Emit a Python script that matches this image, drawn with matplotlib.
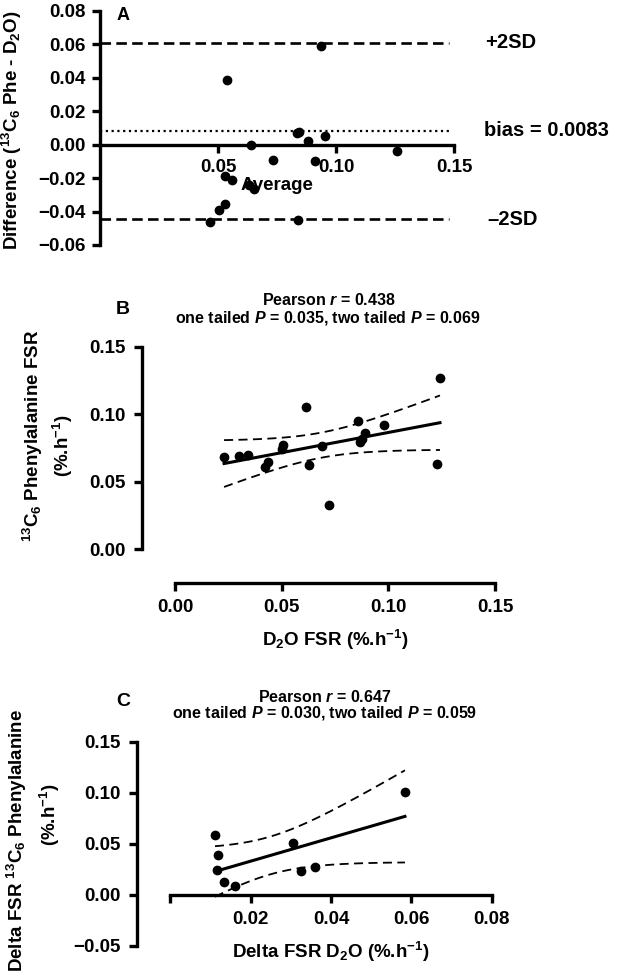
import numpy as np
import matplotlib.pyplot as plt
from matplotlib.ticker import FuncFormatter

plt.rcParams['font.family'] = ['Liberation Sans', 'DejaVu Sans']
plt.rcParams['font.weight'] = 'bold'
plt.rcParams['axes.labelweight'] = 'bold'
plt.rcParams['mathtext.fontset'] = 'custom'
plt.rcParams['mathtext.rm'] = 'Liberation Sans:bold'
plt.rcParams['mathtext.it'] = 'Liberation Sans:italic:bold'
plt.rcParams['mathtext.bf'] = 'Liberation Sans:bold'
plt.rcParams['axes.linewidth'] = 2.4

# Panel A: Bland-Altman
avg_a = [0.0537, 0.0638, 0.0734, 0.0833, 0.0843, 0.0883, 0.0911, 0.0935, 0.0953,
         0.1257, 0.0530, 0.0560, 0.0633, 0.0653, 0.0530, 0.0505, 0.0466, 0.0840]
diff_a = [0.0386, 0.0000, -0.0089, 0.0069, 0.0079, 0.0024, -0.0095, 0.0588, 0.0053,
          -0.0036, -0.0190, -0.0214, -0.0243, -0.0263, -0.0352, -0.0392, -0.0461, -0.0451]
bias = 0.0083
sd = 0.0264

# Panel B: D2O vs 13C6 Phe FSR
x_b = [0.0230, 0.0301, 0.0344, 0.0436, 0.0422, 0.0508, 0.0500, 0.0612, 0.0630,
       0.0688, 0.0723, 0.0859, 0.0890, 0.0867, 0.0875, 0.0980, 0.1242, 0.1227]
y_b = [0.0686, 0.0691, 0.0699, 0.0647, 0.0612, 0.0773, 0.0745, 0.1056, 0.0624,
       0.0768, 0.0328, 0.0953, 0.0859, 0.0797, 0.0817, 0.0921, 0.1267, 0.0634]

# Panel C: delta FSR
x_c = [0.0111, 0.0119, 0.0117, 0.0134, 0.0161, 0.0305, 0.0325, 0.0360, 0.0584]
y_c = [0.0582, 0.0392, 0.0245, 0.0124, 0.0082, 0.0507, 0.0229, 0.0268, 0.1007]

# two-sided 95% t values for n-2 degrees of freedom
t_crit = {16: 2.120, 7: 2.365}

W, H = 622, 972
fig = plt.figure(figsize=(W / 100, H / 100), dpi=100)


def px_axes(left, right, top, bottom):
    return fig.add_axes([left / W, 1 - bottom / H, (right - left) / W, (bottom - top) / H])


fmt = FuncFormatter(lambda v, p: ('%.2f' % v).replace('-', '\u2212'))


def style(ax, pad=4):
    for s in ['top', 'right']:
        ax.spines[s].set_visible(False)
    ax.tick_params(width=2.4, length=6, labelsize=13.5, pad=pad)
    ax.yaxis.set_major_formatter(fmt)


def fit_plot(ax, x, y):
    x = np.array(x)
    y = np.array(y)
    n = len(x)
    slope, icpt = np.polyfit(x, y, 1)
    xs = np.linspace(x.min(), x.max(), 100)
    yfit = slope * xs + icpt
    resid = y - (slope * x + icpt)
    s = np.sqrt(np.sum(resid ** 2) / (n - 2))
    sxx = np.sum((x - x.mean()) ** 2)
    ci = t_crit[n - 2] * s * np.sqrt(1 / n + (xs - x.mean()) ** 2 / sxx)
    ax.plot(xs, yfit, color='black', lw=2.2)
    ax.plot(xs, yfit + ci, color='black', lw=1.3, dashes=(5, 3))
    ax.plot(xs, yfit - ci, color='black', lw=1.3, dashes=(5, 3))
    ax.plot(x, y, 'o', color='black', ms=6, clip_on=False)


# ---- A ----
axA = px_axes(100, 454, 11, 245)
style(axA)
axA.spines['bottom'].set_position(('data', 0))
axA.set_xlim(0, 0.15)
axA.set_ylim(-0.06, 0.08)
axA.set_xticks([0.05, 0.10, 0.15])
axA.set_yticks(np.arange(-0.06, 0.081, 0.02))
axA.xaxis.set_major_formatter(fmt)
axA.plot([0, 0.148], [bias + 2 * sd] * 2, color='black', lw=1.9, dashes=(4, 2))
axA.plot([0, 0.148], [bias - 2 * sd] * 2, color='black', lw=1.9, dashes=(4, 2))
axA.plot([0, 0.148], [bias] * 2, color='black', lw=1.6, dashes=(1, 1.6))
axA.plot(avg_a, diff_a, 'o', color='black', ms=6, clip_on=False)
axA.set_xlabel('Average', fontsize=13.5, labelpad=1)
axA.text(0.163, bias + 2 * sd, '+2SD', fontsize=14.5, va='center', clip_on=False)
axA.text(0.1625, bias, 'bias = 0.0083', fontsize=14.5, va='center', clip_on=False)
axA.text(0.164, bias - 2 * sd, '\u20132SD', fontsize=14.5, va='center', clip_on=False)
fig.text(12 / W, 1 - 130 / H, r'Difference ($^{13}$C$_6$ Phe - D$_2$O)', rotation=90,
         ha='center', va='center', fontsize=13.5)
fig.text(123 / W, 1 - 15 / H, 'A', fontsize=13, ha='center', va='center')

# ---- B ----
axB = px_axes(175, 495, 346.7, 549.3)
style(axB, pad=6)
axB.spines['left'].set_position(('outward', 23.5))
axB.spines['bottom'].set_position(('outward', 24))
axB.set_xlim(0, 0.15)
axB.set_ylim(0, 0.15)
axB.set_xticks([0, 0.05, 0.10, 0.15])
axB.set_yticks([0, 0.05, 0.10, 0.15])
axB.xaxis.set_major_formatter(fmt)
fit_plot(axB, x_b, y_b)
axB.set_xlabel(r'D$_2$O FSR (%.h$^{-1}$)', fontsize=13.5, labelpad=8)
fig.text(33 / W, 1 - 436 / H, r'$^{13}$C$_6$ Phenylalanine FSR', rotation=90,
         ha='center', va='center', fontsize=13.5)
fig.text(63 / W, 1 - 446 / H, r'(%.h$^{-1}$)', rotation=90,
         ha='center', va='center', fontsize=13.5)
fig.text(329 / W, 1 - 300 / H, r'Pearson $\mathit{r}$ = 0.438', fontsize=11.5,
         ha='center', va='center')
fig.text(328 / W, 1 - 318 / H, r'one tailed $\mathit{P}$ = 0.035, two tailed $\mathit{P}$ = 0.069',
         fontsize=11.5, ha='center', va='center')
fig.text(123 / W, 1 - 310 / H, 'B', fontsize=14, ha='center', va='center')

# ---- C ----
axC = px_axes(170.4, 491.7, 741.7, 945.7)
style(axC, pad=6)
axC.spines['left'].set_position(('outward', 24))
axC.spines['bottom'].set_position(('data', 0))
axC.set_xlim(0, 0.08)
axC.set_ylim(-0.05, 0.15)
axC.set_xticks([0, 0.02, 0.04, 0.06, 0.08])
axC.set_xticklabels(['', '0.02', '0.04', '0.06', '0.08'])
axC.set_yticks([-0.05, 0, 0.05, 0.10, 0.15])
fit_plot(axC, x_c, y_c)
axC.set_xlabel(r'Delta FSR D$_2$O (%.h$^{-1}$)', fontsize=13.5, labelpad=8)
fig.text(17 / W, 1 - 840 / H, r'Delta FSR $^{13}$C$_6$ Phenylalanine', rotation=90,
         ha='center', va='center', fontsize=13.5)
fig.text(50 / W, 1 - 815 / H, r'(%.h$^{-1}$)', rotation=90,
         ha='center', va='center', fontsize=13.5)
fig.text(325 / W, 1 - 697 / H, r'Pearson $\mathit{r}$ = 0.647', fontsize=11.5,
         ha='center', va='center')
fig.text(325 / W, 1 - 713 / H, r'one tailed $\mathit{P}$ = 0.030, two tailed $\mathit{P}$ = 0.059',
         fontsize=11.5, ha='center', va='center')
fig.text(123 / W, 1 - 702 / H, 'C', fontsize=14, ha='center', va='center')

fig.savefig('out.png', dpi=100)
